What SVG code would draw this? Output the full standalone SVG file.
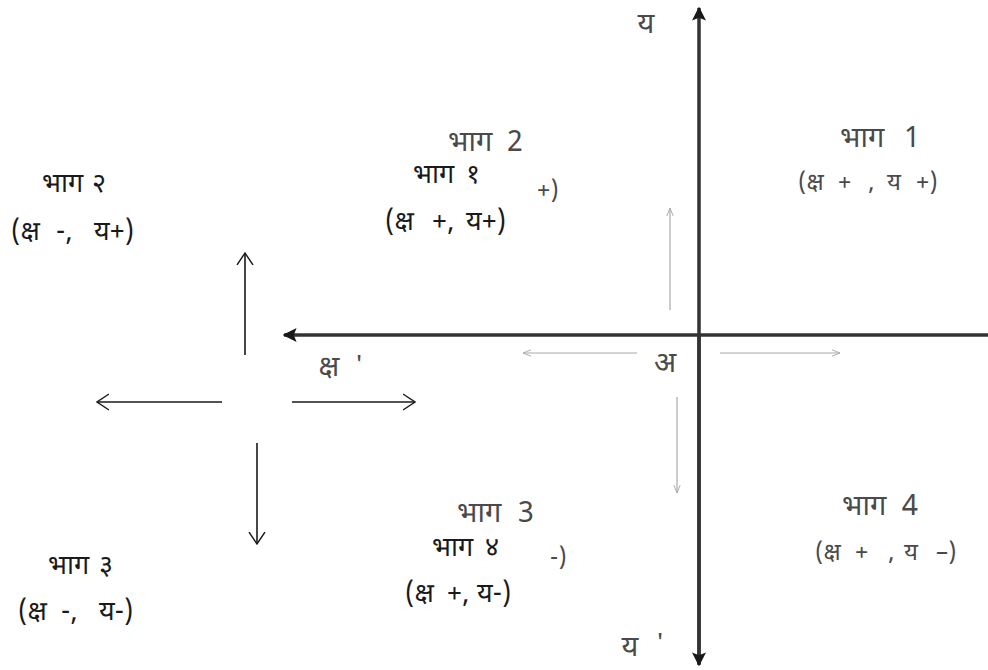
<svg xmlns="http://www.w3.org/2000/svg" width="988" height="670" viewBox="0 0 988 670">
<style>
text{font-family:"Noto Sans Devanagari","Noto Sans",sans-serif;}
.k{fill:#1a1a1a;font-size:27px;}
.g{fill:#4a4a4a;font-size:29px;}
.gs{fill:#4a4a4a;font-size:24px;}
.axis{stroke:#333;stroke-width:3.5;fill:none;}
.blk{stroke:#1a1a1a;stroke-width:1.6;fill:none;}
.thin{stroke:#aaa;stroke-width:1.2;fill:none;}
</style>
<defs>
<marker id="solid" viewBox="0 0 10 10" refX="9" refY="5" markerWidth="4" markerHeight="4" orient="auto" markerUnits="strokeWidth">
<path d="M0,0 L10,5 L0,10 L2,5 z" fill="#1a1a1a"/>
</marker>
<marker id="open" viewBox="0 0 13 18" refX="12" refY="9" markerWidth="13" markerHeight="18" orient="auto" markerUnits="userSpaceOnUse">
<path d="M0,1 L12,9 L0,17" fill="none" stroke="#1a1a1a" stroke-width="1.4"/>
</marker>
<marker id="opengray" viewBox="0 0 10 10" refX="10" refY="5" markerWidth="8" markerHeight="8" orient="auto" markerUnits="userSpaceOnUse">
<path d="M0,1 L10,5 L0,9" fill="none" stroke="#aaa" stroke-width="1.2"/>
</marker>
</defs>
<g id="connectors">
<line class="axis" x1="699" y1="664" x2="699" y2="8" marker-end="url(#solid)"/>
<line class="axis" x1="699" y1="335" x2="699" y2="665" marker-end="url(#solid)"/>
<line class="axis" x1="988" y1="335" x2="284" y2="335" marker-end="url(#solid)"/>
<line class="thin" x1="670" y1="310" x2="670" y2="208" marker-end="url(#opengray)"/>
<line class="thin" x1="720" y1="353" x2="840" y2="353" marker-end="url(#opengray)"/>
<line class="thin" x1="677" y1="397" x2="677" y2="493" marker-end="url(#opengray)"/>
<line class="thin" x1="637" y1="353" x2="523" y2="353" marker-end="url(#opengray)"/>
<line class="blk" x1="245" y1="355" x2="245" y2="253" marker-end="url(#open)"/>
<line class="blk" x1="222" y1="402" x2="97" y2="402" marker-end="url(#open)"/>
<line class="blk" x1="292" y1="402" x2="415" y2="402" marker-end="url(#open)"/>
<line class="blk" x1="257" y1="443" x2="257" y2="544" marker-end="url(#open)"/>
</g>
<g id="axis-labels">
<text class="g" x="646" y="33" text-anchor="middle">य</text>
<text class="g" x="630" y="656" text-anchor="middle">य</text>
<text class="gs" x="656" y="650" font-size="14">'</text>
<text class="g" x="665" y="372" text-anchor="middle">अ</text>
<text class="g" x="329" y="376" text-anchor="middle">क्ष</text>
<text class="gs" x="355" y="372" font-size="14">'</text>
</g>
<g id="q1">
<text class="g" y="147"><tspan x="840">भाग</tspan><tspan x="904">1</tspan></text>
<text class="gs" y="190"><tspan x="798">(क्ष</tspan><tspan x="838">+</tspan><tspan x="868">,</tspan><tspan x="887">य</tspan><tspan x="916">+)</tspan></text>
</g>
<g id="q2">
<text class="g" y="151"><tspan x="448">भाग</tspan><tspan x="507">2</tspan></text>
<text class="k" y="183"><tspan x="413">भाग</tspan><tspan x="466">१</tspan></text>
<text class="gs" x="537" y="198">+)</text>
<text class="k" y="230"><tspan x="385">(क्ष</tspan><tspan x="432">+,</tspan><tspan x="466">य+)</tspan></text>
</g>
<g id="q3">
<text class="g" y="522"><tspan x="457">भाग</tspan><tspan x="518">3</tspan></text>
<text class="k" y="556"><tspan x="432">भाग</tspan><tspan x="485">४</tspan></text>
<text class="gs" x="550" y="565">-)</text>
<text class="k" y="602"><tspan x="405">(क्ष</tspan><tspan x="447">+,</tspan><tspan x="477">य-)</tspan></text>
</g>
<g id="q4">
<text class="g" y="515"><tspan x="842">भाग</tspan><tspan x="902">4</tspan></text>
<text class="gs" y="560"><tspan x="815">(क्ष</tspan><tspan x="855">+</tspan><tspan x="888">,</tspan><tspan x="904">य</tspan><tspan x="936">–)</tspan></text>
</g>
<g id="left-q2">
<text class="k" y="192"><tspan x="42">भाग</tspan><tspan x="92">२</tspan></text>
<text class="k" y="240"><tspan x="11">(क्ष</tspan><tspan x="56">-,</tspan><tspan x="94">य+)</tspan></text>
</g>
<g id="left-q3">
<text class="k" y="574"><tspan x="48">भाग</tspan><tspan x="99">३</tspan></text>
<text class="k" y="620"><tspan x="18">(क्ष</tspan><tspan x="61">-,</tspan><tspan x="99">य-)</tspan></text>
</g>
</svg>
